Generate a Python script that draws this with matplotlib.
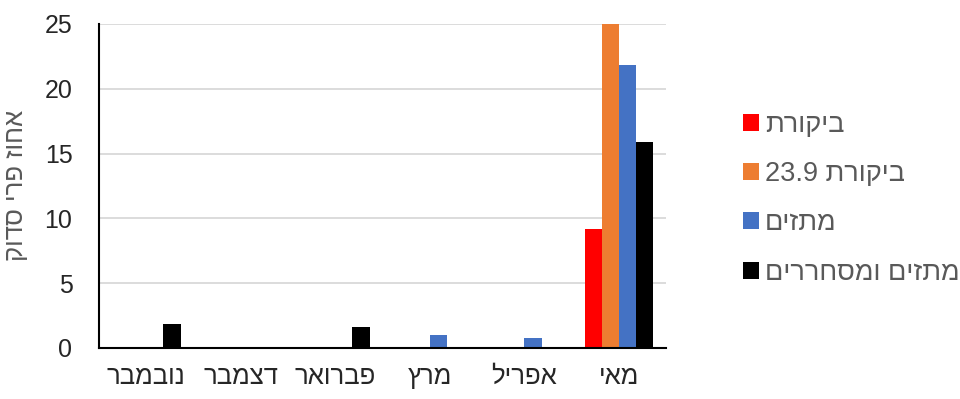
import numpy as np
from matplotlib import pyplot as plt

plt.rcParams['font.family'] = ['Liberation Sans', 'DejaVu Sans']

months = ['נובמבר', 'דצמבר', 'פברואר', 'מרץ', 'אפריל', 'מאי']
series_names = ['ביקורת', 'ביקורת 23.9', 'מתזים', 'מתזים ומסחררים']
control = [0, 0, 0, 0, 0, 9.2]
control_239 = [0, 0, 0, 0, 0, 25]
sprinklers = [0, 0, 0, 1.0, 0.75, 21.8]
sprinklers_fans = [1.83, 0, 1.62, 0, 0, 15.9]
colors = ['#ff0000', '#ed7d31', '#4472c4', '#000000']
y_label = 'אחוז פרי סדוק'


def visual(s):
    # matplotlib has no bidi support, so lay out RTL text by hand
    words = s.split(' ')[::-1]
    out = []
    for w in words:
        if any('\u0590' <= c <= '\u05ff' for c in w):
            w = w[::-1]
        out.append(w)
    return ' '.join(out)


fig = plt.figure(figsize=(9.6, 3.99), dpi=100)
ax = fig.add_axes([0.103, 0.128, 0.591, 0.812])

x = np.arange(len(months))
w = 0.182
all_series = [control, control_239, sprinklers, sprinklers_fans]
for i, (vals, name, c) in enumerate(zip(all_series, series_names, colors)):
    ax.bar(x + (i - 1.5) * w, vals, w, color=c, label=visual(name), zorder=3)

ax.set_xlim(-0.5, len(months) - 0.5)
ax.set_ylim(0, 25)
ax.set_yticks([0, 5, 10, 15, 20, 25])
ax.set_xticks(x)
ax.set_xticklabels([visual(m) for m in months], fontsize=18.5, color='#262626')
ax.tick_params(axis='y', length=0, pad=19, labelsize=18, labelcolor='#262626')
ax.tick_params(axis='x', length=0, pad=12)
ax.grid(axis='y', color='#d9d9d9', linewidth=1.3, zorder=0)
for s in ['top', 'right']:
    ax.spines[s].set_visible(False)
for s in ['left', 'bottom']:
    ax.spines[s].set_linewidth(1.5)
    ax.spines[s].set_color('black')
    ax.spines[s].set_zorder(4)

ax.set_ylabel(visual(y_label), fontsize=18.5, color='#595959', labelpad=12)

fig.legend(loc='center left', bbox_to_anchor=(0.749, 0.502), frameon=False,
           fontsize=19.5, labelcolor='#595959', handlelength=0.59, handleheight=0.59,
           handletextpad=0.2, labelspacing=0.86)

plt.savefig('out.png', dpi=100)
